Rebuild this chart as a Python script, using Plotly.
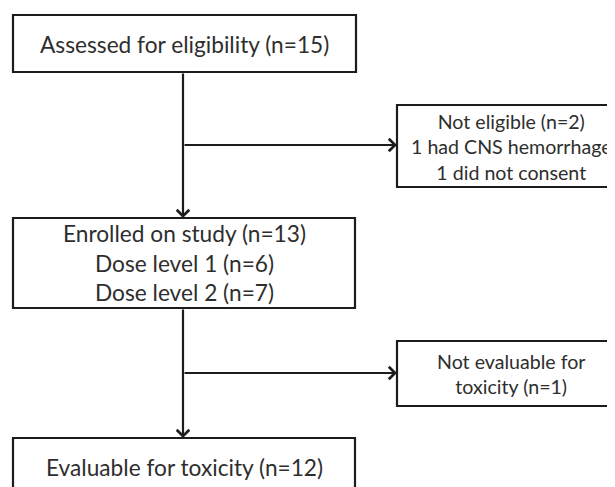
import plotly.graph_objects as go

# ---- content ----
main_labels = [
    "Assessed for eligibility (n=15)",
    "Enrolled on study (n=13)<br>Dose level 1 (n=6)<br>Dose level 2 (n=7)",
    "Evaluable for toxicity (n=12)",
]
side_labels = [
    "Not eligible (n=2)<br>1 had CNS hemorrhage<br>1 did not consent",
    "Not evaluable for<br>toxicity (n=1)",
]

# ---- layout geometry (pixels in a 615x487 canvas) ----
W, H = 615, 487
OFF = 8  # page body margin in the browser
main_boxes = [(13, 356, 15, 72), (13, 355, 218, 308), (13, 355, 438, 520)]
side_boxes = [(397, 640, 105, 187), (397, 640, 341, 406)]
main_text_y = [44, 263, 467]
side_text_y = [147, 374]
main_text_x = 184
side_text_x = 511
trunk_x = 183
branch_y = [145, 373]

LINE = "#1c1c1c"
TEXT = "#2e2e2e"
FONT = "Lato"

fig = go.Figure()
fig.add_trace(go.Scatter(x=[0, W], y=[0, H], mode="markers",
                         marker=dict(opacity=0), hoverinfo="skip", showlegend=False))

shapes = []
for (x0, x1, y0, y1) in main_boxes + side_boxes:
    shapes.append(dict(type="rect", xref="x", yref="y", x0=x0, x1=x1, y0=y0, y1=y1,
                       line=dict(color=LINE, width=2.2), fillcolor="white", layer="below"))

annotations = []
for lbl, ty in zip(main_labels, main_text_y):
    annotations.append(dict(x=main_text_x, y=ty, xref="x", yref="y", text=lbl,
                            showarrow=False, font=dict(family=FONT, size=22.7, color=TEXT),
                            xanchor="center", yanchor="middle", align="center"))
for lbl, ty in zip(side_labels, side_text_y):
    annotations.append(dict(x=side_text_x, y=ty, xref="x", yref="y", text=lbl,
                            showarrow=False, font=dict(family=FONT, size=19.6, color=TEXT),
                            xanchor="center", yanchor="middle", align="center"))

# vertical arrows between main boxes
for i in range(2):
    annotations.append(dict(x=trunk_x, y=main_boxes[i + 1][2], ax=trunk_x, ay=main_boxes[i][3],
                            xref="x", yref="y", axref="x", ayref="y", text="",
                            showarrow=True, arrowhead=4, arrowsize=1.1, arrowwidth=2.2,
                            arrowcolor=LINE, standoff=0))
# horizontal branch arrows
for i in range(2):
    annotations.append(dict(x=side_boxes[i][0], y=branch_y[i], ax=trunk_x, ay=branch_y[i],
                            xref="x", yref="y", axref="x", ayref="y", text="",
                            showarrow=True, arrowhead=4, arrowsize=1.1, arrowwidth=2.2,
                            arrowcolor=LINE, standoff=0))

fig.update_layout(
    width=W, height=H, margin=dict(l=0, r=0, t=0, b=0),
    paper_bgcolor="white", plot_bgcolor="white",
    xaxis=dict(range=[OFF, W + OFF], visible=False, fixedrange=True),
    yaxis=dict(range=[H + OFF, OFF], visible=False, fixedrange=True),
    shapes=shapes, annotations=annotations, showlegend=False,
)
fig.write_html("out.html")
